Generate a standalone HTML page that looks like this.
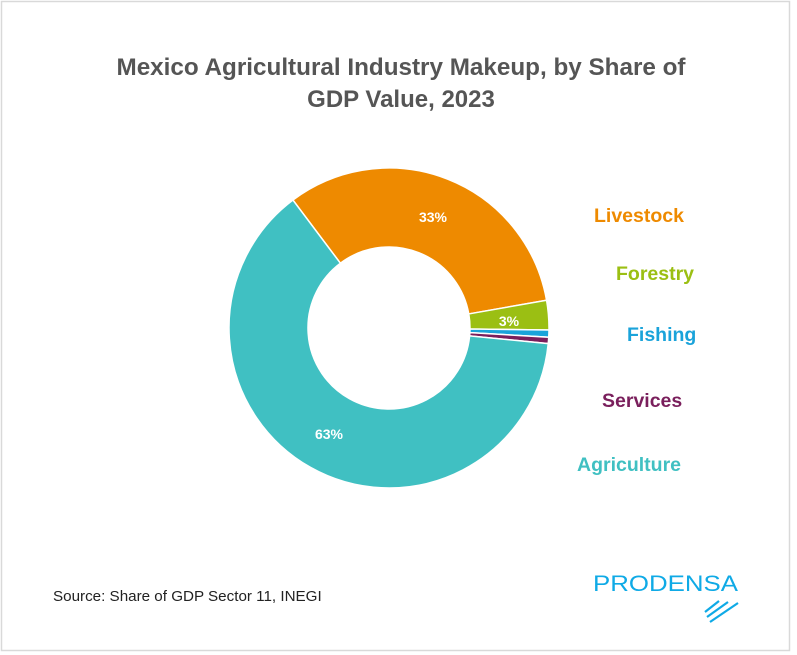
<!DOCTYPE html>
<html><head><meta charset="utf-8"><style>
body{margin:0;background:#fff;}
svg{display:block;font-family:"Liberation Sans",sans-serif;}
</style></head><body>
<svg id="s" width="797" height="655" viewBox="0 0 797 655">
<rect x="1.5" y="1.5" width="788" height="649" fill="#fff" stroke="#d9d9d9" stroke-width="1.5"/>
<text x="401" y="75" text-anchor="middle" font-size="24" font-weight="bold" fill="#555" textLength="569" lengthAdjust="spacingAndGlyphs">Mexico Agricultural Industry Makeup, by Share of</text>
<text x="401" y="107" text-anchor="middle" font-size="24" font-weight="bold" fill="#555">GDP Value, 2023</text>
<g id="d"></g>
<g font-weight="bold" font-size="14" fill="#fff" text-anchor="middle">
<text x="433" y="222">33%</text><text x="509" y="326">3%</text><text x="329" y="439">63%</text></g>
<g font-weight="bold" font-size="19.5">
<text x="594" y="222" fill="#EE8A00">Livestock</text>
<text x="616" y="280" fill="#9BBF13">Forestry</text>
<text x="627" y="341" fill="#1AA3DA">Fishing</text>
<text x="602" y="407" fill="#7A1F5C">Services</text>
<text x="577" y="471" fill="#40C0C2">Agriculture</text></g>
<text x="53" y="601" font-size="15.2" fill="#222">Source: Share of GDP Sector 11, INEGI</text>
<text x="593" y="591" font-size="22" fill="#0FAAE6" textLength="145" lengthAdjust="spacingAndGlyphs">PRODENSA</text>
<g stroke="#0FAAE6" stroke-width="2.2">
<line x1="705" y1="612" x2="719" y2="601"/><line x1="707" y1="617" x2="728" y2="602"/><line x1="710" y1="622" x2="738" y2="603"/></g>
</svg>
<script>
var cx=389,cy=328,R=160,r=81,g=document.getElementById('d');
function p(a,rad){a=a*Math.PI/180;return (cx+rad*Math.sin(a)).toFixed(2)+' '+(cy-rad*Math.cos(a)).toFixed(2);}
[[-36.9,80,'#EE8A00'],[80,90.7,'#9BBF13'],[90.7,93.3,'#1AA3DA'],[93.3,95.6,'#7A1F5C'],[95.6,323.1,'#40C0C2']].forEach(function(s){
var l=(s[1]-s[0])>180?1:0;
var e=document.createElementNS('http://www.w3.org/2000/svg','path');
e.setAttribute('d','M'+p(s[0],R)+' A'+R+' '+R+' 0 '+l+' 1 '+p(s[1],R)+' L'+p(s[1],r)+' A'+r+' '+r+' 0 '+l+' 0 '+p(s[0],r)+'Z');
e.setAttribute('fill',s[2]);e.setAttribute('stroke','#fff');e.setAttribute('stroke-width','1.5');
g.appendChild(e);});
</script>
</body></html>
